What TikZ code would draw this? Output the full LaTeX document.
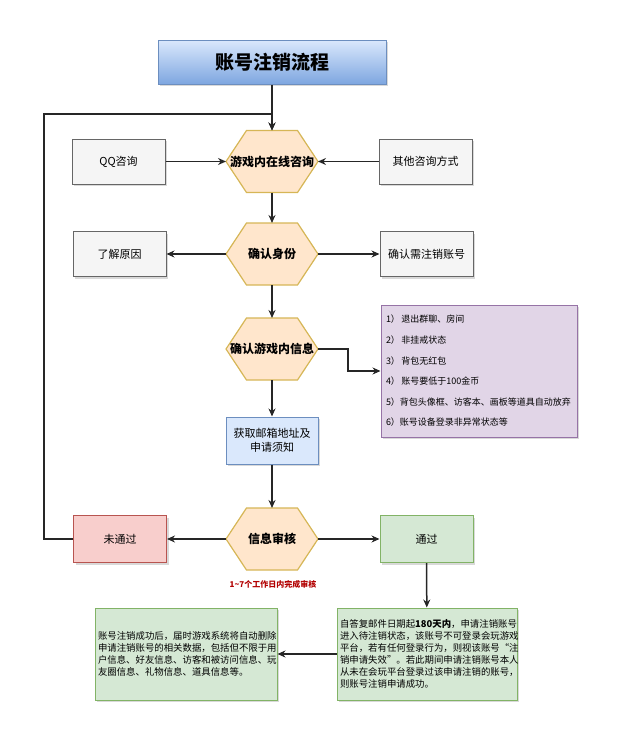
\documentclass[tikz,border=0pt]{standalone}
\usepackage{fontspec}
\setmainfont{Noto Sans CJK SC}
\usepackage{tikz}
\usetikzlibrary{arrows.meta,shadows}

\definecolor{titleline}{HTML}{6C8EBF}
\definecolor{titletop}{HTML}{DAE8FC}
\definecolor{titlebottom}{HTML}{7EA6E0}
\definecolor{hexfill}{HTML}{FFE6CC}
\definecolor{hexline}{HTML}{D6B656}
\definecolor{grayfill}{HTML}{F5F5F5}
\definecolor{grayline}{HTML}{666666}
\definecolor{purplefill}{HTML}{E1D5E7}
\definecolor{purpleline}{HTML}{9673A6}
\definecolor{bluefill}{HTML}{DAE8FC}
\definecolor{blueline}{HTML}{6C8EBF}
\definecolor{redfill}{HTML}{F8CECC}
\definecolor{redline}{HTML}{B85450}
\definecolor{greenfill}{HTML}{D5E8D4}
\definecolor{greenline}{HTML}{82B366}
\definecolor{notered}{HTML}{B20000}

\begin{document}
\begin{tikzpicture}
[x=1pt, y=-1pt,
shade/.style={drop shadow={shadow xshift=2pt, shadow yshift=-2pt, opacity=0.3}},
title/.style={draw=titleline, top color=titletop, bottom color=titlebottom, line width=1pt, shade, minimum width=228, minimum height=44, inner sep=0, font=\bfseries\fontsize{19}{22}\selectfont},
hexa/.style={minimum width=94, minimum height=64, inner sep=0, outer sep=-1pt, font=\bfseries\fontsize{12}{14}\selectfont,
  path picture={\draw[draw=hexline, fill=hexfill, line width=1.2pt]
    ([xshift=1pt]path picture bounding box.west)
    -- ([xshift=21.5pt,yshift=-1pt]path picture bounding box.north west)
    -- ([xshift=-21.5pt,yshift=-1pt]path picture bounding box.north east)
    -- ([xshift=-1pt]path picture bounding box.east)
    -- ([xshift=-21.5pt,yshift=1pt]path picture bounding box.south east)
    -- ([xshift=21.5pt,yshift=1pt]path picture bounding box.south west) -- cycle;}},
graybox/.style={draw=grayline, fill=grayfill, line width=1pt, shade, minimum width=93, minimum height=45, inner sep=0, font=\fontsize{11}{14}\selectfont},
listbox/.style={draw=purpleline, fill=purplefill, line width=1pt, shade, minimum height=132, text width=186, inner xsep=5, inner ysep=0, align=left, font=\fontsize{9}{20.6}\selectfont},
bluebox/.style={draw=blueline, fill=bluefill, line width=1pt, shade, minimum width=92, minimum height=47, inner sep=0, align=center, font=\fontsize{11}{14}\selectfont},
redbox/.style={draw=redline, fill=redfill, line width=1pt, shade, minimum width=93, minimum height=47, inner sep=0, font=\fontsize{11}{14}\selectfont},
greenbox/.style={draw=greenline, fill=greenfill, line width=1pt, shade, minimum height=92, inner xsep=3, inner ysep=0, align=left, font=\fontsize{9.4}{12}\selectfont},
flow/.style={draw=black!85, line width=1.5pt, -{Stealth[length=8pt,width=7pt]}}]
\useasboundingbox (0,0) rectangle (620,745);

% main column
\node[title] (title) at (272,62) {账号注销流程};
\node[hexa] (ask) at (272,161.5) {游戏内在线咨询};
\node[hexa] (identity) at (272,254) {确认身份};
\node[hexa] (info) at (272,349) {确认游戏内信息};
\node[bluebox] (mail) at (272,440.5) {获取邮箱地址及\\申请须知};
\node[hexa] (review) at (272,539) {信息审核};
\node[font=\bfseries\fontsize{8}{10}\selectfont, text=notered] (days) at (273,584) {1\textasciitilde7个工作日内完成审核};

% side boxes
\node[graybox] (qq) at (118.5,161.5) {QQ咨询};
\node[graybox] (other) at (425.5,161.5) {其他咨询方式};
\node[graybox] (reason) at (119.5,254) {了解原因};
\node[graybox] (account) at (426.5,254) {确认需注销账号};
\node[listbox] (rules) at (479,371) {1）\,退出群聊、房间\\2）\,非挂戒状态\\3）\,背包无红包\\4）\,账号要低于100金币\\5）背包头像框、访客本、画板等道具自动放弃\\6）账号设备登录非异常状态等};
\node[redbox] (fail) at (120,539) {未通过};
\node[greenbox, minimum width=93, minimum height=47, align=center, font=\fontsize{11}{14}\selectfont, inner sep=0] (pass) at (426.5,539) {通过};
\node[greenbox, text width=174] (wait) at (427,654) {自答复邮件日期起\textbf{180天内}，申请注销账号\\进入待注销状态，该账号不可登录会玩游戏\\平台，若有任何登录行为，则视该账号“注\\销申请失效”。若此期间申请注销账号本人\\从未在会玩平台登录过该申请注销的账号，\\则账号注销申请成功。};
\node[greenbox, text width=176] (done) at (186,654) {账号注销成功后，届时游戏系统将自动删除\\申请注销账号的相关数据，包括但不限于用\\户信息、好友信息、访客和被访问信息、玩\\友圈信息、礼物信息、道具信息等。};

\coordinate (back) at (44,114);

% connectors
\draw[flow] (title) -- (ask);
\draw[flow] (qq) -- (ask);
\draw[flow] (other) -- (ask);
\draw[flow] (ask) -- (identity);
\draw[flow] (identity) -- (reason);
\draw[flow] (identity) -- (account);
\draw[flow] (identity) -- (info);
\draw[flow] (info.east) -- ++(30,0) |- (rules.west);
\draw[flow] (info) -- (mail);
\draw[flow] (mail) -- (review);
\draw[flow] (review) -- (fail);
\draw[flow] (review) -- (pass);
\draw[flow] (pass) -- (wait);
\draw[flow] (wait) -- (done);
\draw[flow] (fail.west) -| (back) -- (back -| ask.north) -- (ask.north);
\end{tikzpicture}
\end{document}
